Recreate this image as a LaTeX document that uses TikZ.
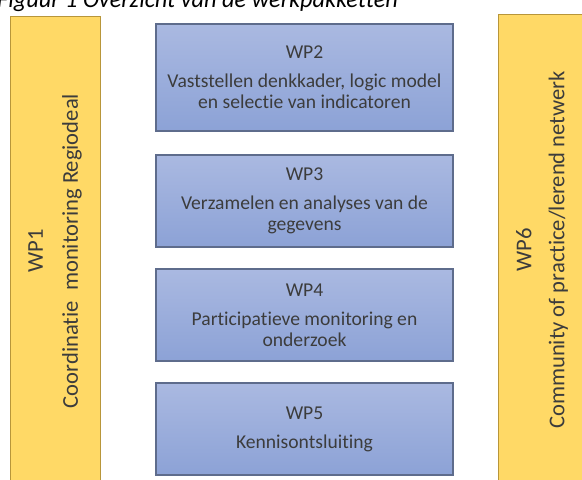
\documentclass[tikz,border=0pt]{standalone}
\usepackage{fontspec}
\setmainfont{Carlito}[Ligatures=NoCommon]
\definecolor{ytop}{HTML}{FFD966}
\definecolor{yedge}{HTML}{B8963A}
\definecolor{btop}{HTML}{AAB9E1}
\definecolor{bbot}{HTML}{8CA2D6}
\definecolor{bedge}{HTML}{5E6C8C}
\definecolor{txt}{HTML}{3C3C3C}
\tikzset{
  wpbox/.style={draw=bedge, line width=1.2pt, top color=btop, bottom color=bbot,
    minimum width=297pt, inner sep=0pt, align=center, text=txt,
    font=\fontsize{19.6}{21}\selectfont},
  ybox/.style={draw=yedge, line width=1pt, fill=ytop, rotate=90, inner sep=0pt,
    align=center, text=txt, font=\fontsize{22.6}{27}\selectfont},
  titletext/.style={font=\fontsize{24.3}{28}\selectfont\itshape, text=black, inner sep=0pt}
}
\begin{document}
\begin{tikzpicture}[x=1pt,y=-1pt]
\clip (0,0) rectangle (582,480);
\fill[white] (0,0) rectangle (582,480);
\node[titletext, anchor=base west] (title) at (-3,7) {Figuur 1 Overzicht van de werkpakketten};
\node[ybox, minimum width=470pt, minimum height=90pt] (wp1) at (55,251)
  {WP1\\[8pt]Coordinatie\ \ monitoring Regiodeal};
\node[ybox, minimum width=472pt, minimum height=88pt] (wp6) at (542,250)
  {WP6\\[6pt]Community of practice/lerend netwerk};
\node[wpbox, minimum height=107pt] (wp2) at (304.5,77.5)
  {WP2\\[8pt]Vaststellen denkkader, logic model\\en selectie van indicatoren};
\node[wpbox, minimum height=92pt] (wp3) at (304.5,201)
  {WP3\\[8pt]Verzamelen en analyses van de\\gegevens};
\node[wpbox, minimum height=92pt] (wp4) at (304.5,315)
  {WP4\\[8pt]Participatieve monitoring en\\onderzoek};
\node[wpbox, minimum height=92pt] (wp5) at (304.5,429)
  {WP5\\[8pt]Kennisontsluiting};
\end{tikzpicture}
\end{document}
